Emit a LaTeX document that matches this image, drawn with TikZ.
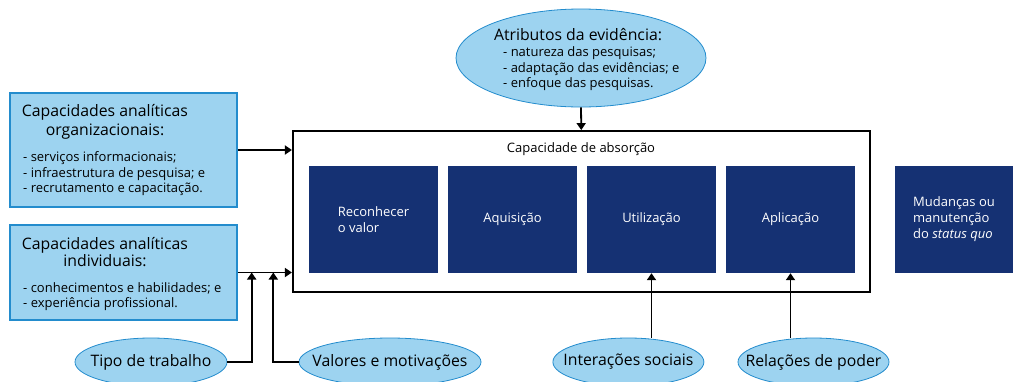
\documentclass[tikz,border=0pt]{standalone}
\usepackage{fontspec}
\setmainfont{Open Sans}
\usetikzlibrary{shapes.geometric,arrows.meta,calc}
\definecolor{lblue}{RGB}{157,211,240}
\definecolor{bblue}{RGB}{35,140,205}
\definecolor{navy}{RGB}{21,49,115}
\begin{document}
\begin{tikzpicture}[x=1pt,y=-1pt,
  lbox/.style={draw=bblue, line width=1.2pt, fill=lblue, rectangle, inner sep=0, minimum width=227pt},
  ebox/.style={draw=bblue, line width=0.8pt, fill=lblue, ellipse, inner sep=0},
  etxt/.style={font=\fontsize{15.8}{18}\selectfont, inner sep=0},
  nbox/.style={fill=navy, text=white, inner sep=0, minimum width=129pt, minimum height=107pt, font=\fontsize{13}{16}\selectfont, align=left},
  ttl/.style={font=\fontsize{15.8}{18}\selectfont, inner sep=0, anchor=base},
  lst/.style={font=\fontsize{13}{15}\selectfont, inner sep=0, anchor=base west},
  conn/.style={line width=1.8pt, -{Triangle[length=7pt,width=9pt]}}]
\useasboundingbox (0,0) rectangle (1013,381);
\clip (0,0) rectangle (1013,381);

% left boxes
\node[lbox, minimum height=114pt] (b1) at (123.5,150) {};
\node[ttl] (b1t1) at (105,116.7) {Capacidades analíticas};
\node[ttl] (b1t2) at (105,135) {organizacionais:};
\node[lst] (b1l1) at (23,161.7) {- serviços informacionais;};
\node[lst] (b1l2) at (23,177.2) {- infraestrutura de pesquisa; e};
\node[lst] (b1l3) at (23,192.7) {- recrutamento e capacitação.};

\node[lbox, minimum height=95pt] (b2) at (123.5,272.5) {};
\node[ttl] (b2t1) at (105,249.3) {Capacidades analíticas};
\node[ttl] (b2t2) at (105,266.8) {individuais:};
\node[lst] (b2l1) at (23,292.3) {- conhecimentos e habilidades; e};
\node[lst] (b2l2) at (23,307) {- experiência profissional.};

% top ellipse
\node[ebox, minimum width=250pt, minimum height=98pt] (attr) at (581,58) {};
\node[ttl] (at0) at (578,40.7) {Atributos da evidência:};
\node[lst] (at1) at (503,56) {- natureza das pesquisas;};
\node[lst] (at2) at (503,72) {- adaptação das evidências; e};
\node[lst] (at3) at (503,87.5) {- enfoque das pesquisas.};

% frame
\node[draw, line width=1.8pt, rectangle, inner sep=0, minimum width=577pt, minimum height=161pt] (frame) at (581.3,211.5) {};
\node[font=\fontsize{13}{16}\selectfont, inner sep=0, anchor=base] (abs) at (581,152.7) {Capacidade de absorção};

% navy boxes
\node[nbox] (rec) at (373.5,219.5) {Reconhecer\\o valor};
\node[nbox] (aqu) at (512.5,219.5) {Aquisição};
\node[nbox] (uti) at (651.5,219.5) {Utilização};
\node[nbox] (apl) at (790.5,219.5) {Aplicação};
\node[nbox, minimum width=118pt] (mud) at (954,219.5) {Mudanças ou\\manutenção\\do \textit{status quo}};

% bottom ellipses
\node[ebox, minimum width=152pt, minimum height=48pt] (tipo) at (151,362) {};
\node[etxt] (tipot) at (tipo.center) {Tipo de trabalho};
\node[ebox, minimum width=182pt, minimum height=48pt] (val) at (390,362) {};
\node[etxt] (valt) at (val.center) {Valores e motivações};
\node[ebox, minimum width=151pt, minimum height=48pt] (int) at (628.4,362) {};
\node[etxt] (intt) at (int.center) {Interações sociais};
\node[ebox, minimum width=151pt, minimum height=48pt] (rel) at (813.5,362) {};
\node[etxt] (relt) at (rel.center) {Relações de poder};

% connectors
\coordinate (j1) at (251.7,272.5);
\coordinate (j2) at (273.3,272.5);
\draw[conn] (b1.east) -- (b1.east -| frame.west);
\draw[conn] (b2.east) -- (b2.east -| frame.west);
\draw[conn] (tipo.east) -| (j1);
\draw[conn] (val.west) -| (j2);
\draw[conn] (attr.south) -- (frame.north);
\draw[conn] (int.north -| uti.south) -- (uti.south);
\draw[conn] (rel.north -| apl.south) -- (apl.south);
\end{tikzpicture}
\end{document}
